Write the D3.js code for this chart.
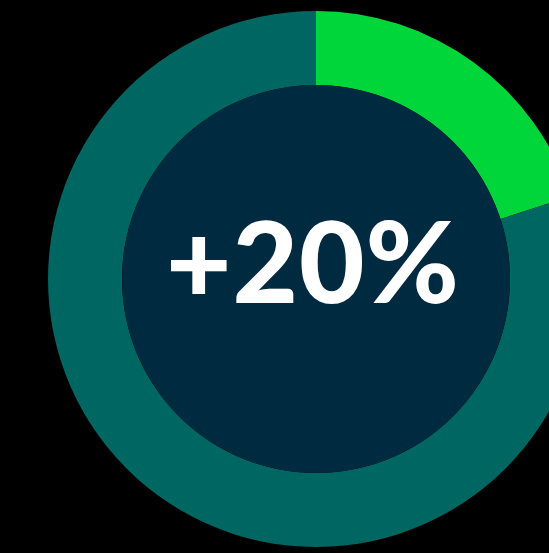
<!DOCTYPE html>
<html>
<head>
<meta charset="utf-8">
<script src="https://cdn.jsdelivr.net/npm/d3@7"></script>
<style>
  html, body { margin: 0; padding: 0; background: #000; }
  svg { display: block; }
</style>
</head>
<body>
<div id="chart"></div>
<script>
const labels = ["Increase", "Rest"];
const values = [20, 80];
const colors = ["#00d639", "#006662"];
const centerLabel = "+20%";

const width = 549, height = 553;
const cx = 316, cy = 279, outerR = 268, innerR = 194;

const svg = d3.select("#chart").append("svg")
    .attr("width", width)
    .attr("height", height)
    .style("background", "#000");

const g = svg.append("g")
    .attr("transform", "translate(" + cx + "," + cy + ")");

const pie = d3.pie().sort(null).value(d => d);
const arc = d3.arc().innerRadius(innerR).outerRadius(outerR);

g.selectAll("path.slice")
    .data(pie(values))
    .enter().append("path")
    .attr("class", "slice")
    .attr("d", arc)
    .attr("fill", (d, i) => colors[i]);

g.append("circle")
    .attr("r", innerR)
    .attr("fill", "#002a40");

g.append("text")
    .attr("x", -3)
    .attr("y", 24)
    .attr("text-anchor", "middle")
    .attr("fill", "#fff")
    .style("font-family", "Lato, 'Open Sans', sans-serif")
    .style("font-weight", 900)
    .style("font-size", "113px")
    .style("letter-spacing", "1px")
    .text(centerLabel);
</script>
</body>
</html>
